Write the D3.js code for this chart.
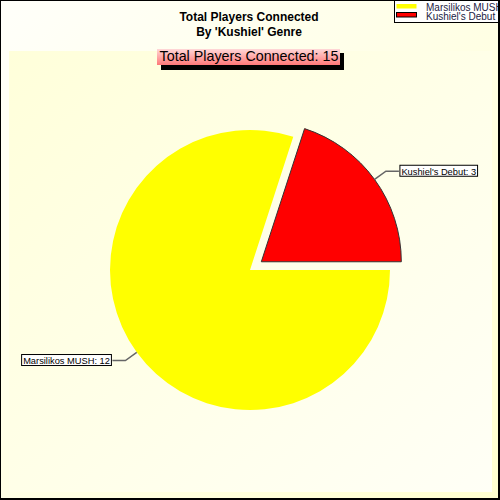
<!DOCTYPE html>
<html>
<head>
<meta charset="utf-8">
<script src="https://cdn.jsdelivr.net/npm/d3@7"></script>
<style>
  body { margin: 0; background: #fff; }
  svg { display: block; font-family: Arial, "Liberation Sans", sans-serif; }
</style>
</head>
<body>
<div id="chart"></div>
<script>
// chart data
const categories = ["Marsilikos MUSH", "Kushiel's Debut"];
const values = [12, 3];
const colors = ["#ffff00", "#ff0000"];
const exploded = [false, true];
const titleLines = ["Total Players Connected", "By 'Kushiel' Genre"];
const subtitle = "Total Players Connected: " + d3.sum(values);

const width = 500, height = 500;
const cx = 250, cy = 270, radius = 140, explode = 14;

const svg = d3.select('#chart').append('svg')
  .attr('width', width)
  .attr('height', height);

const defs = svg.append('defs');

// background gradients
const outerGrad = defs.append('linearGradient').attr('id', 'outerBg')
  .attr('x1', 0).attr('y1', 0).attr('x2', 1).attr('y2', 1);
outerGrad.append('stop').attr('offset', '0%').attr('stop-color', '#fffffa');
outerGrad.append('stop').attr('offset', '100%').attr('stop-color', '#ffffd0');

const innerGrad = defs.append('linearGradient').attr('id', 'innerBg')
  .attr('x1', 0).attr('y1', 0).attr('x2', 1).attr('y2', 1);
innerGrad.append('stop').attr('offset', '0%').attr('stop-color', '#ffffda');
innerGrad.append('stop').attr('offset', '100%').attr('stop-color', '#fffff6');

const pinkGrad = defs.append('linearGradient').attr('id', 'pink')
  .attr('x1', 0).attr('y1', 0).attr('x2', 0).attr('y2', 1);
pinkGrad.append('stop').attr('offset', '0%').attr('stop-color', '#ffd8d8');
pinkGrad.append('stop').attr('offset', '100%').attr('stop-color', '#ff7878');

const legendClip = defs.append('clipPath').attr('id', 'legendClip');
legendClip.append('rect').attr('x', 394).attr('y', 0).attr('width', 104).attr('height', 23);

// frame
svg.append('rect').attr('x', 0).attr('y', 0).attr('width', width).attr('height', height).attr('fill', '#000');
svg.append('rect').attr('x', 1).attr('y', 1).attr('width', width - 3).attr('height', height - 3).attr('fill', 'url(#outerBg)');
svg.append('rect').attr('x', 9).attr('y', 51).attr('width', 483).attr('height', 441).attr('fill', 'url(#innerBg)');

// titles
svg.selectAll('text.title').data(titleLines).enter()
  .append('text')
  .attr('class', 'title')
  .attr('x', 249)
  .attr('y', (d, i) => 21 + i * 15)
  .attr('text-anchor', 'middle')
  .attr('font-size', 12)
  .attr('font-weight', 'bold')
  .attr('fill', '#000')
  .text(d => d);

// subtitle box with shadow
svg.append('rect').attr('x', 161).attr('y', 53).attr('width', 183).attr('height', 17).attr('fill', '#000');
svg.append('rect').attr('x', 157).attr('y', 49).attr('width', 183).attr('height', 16).attr('fill', 'url(#pink)');
svg.append('text')
  .attr('x', 249).attr('y', 61)
  .attr('text-anchor', 'middle')
  .attr('font-size', 14.3)
  .attr('fill', '#000')
  .text(subtitle);

// pie
const data = categories.map((c, i) => ({ name: c, value: values[i], color: colors[i], explode: exploded[i] }));

const pie = d3.pie()
  .sort(null)
  .value(d => d.value)
  .startAngle(Math.PI / 2)
  .endAngle(Math.PI / 2 + 2 * Math.PI);

const arc = d3.arc().innerRadius(0).outerRadius(radius);
const arcs = pie(data);

const offset = d => {
  const a = (d.startAngle + d.endAngle) / 2;
  const r = d.data.explode ? explode : 0;
  return [Math.sin(a) * r, -Math.cos(a) * r];
};

const g = svg.append('g').attr('transform', `translate(${cx},${cy})`);

g.selectAll('path.slice').data(arcs).enter()
  .append('path')
  .attr('class', 'slice')
  .attr('transform', d => `translate(${offset(d)})`)
  .attr('d', arc)
  .attr('fill', d => d.data.color)
  .attr('stroke', d => d.data.explode ? '#333' : 'none')
  .attr('stroke-width', 1);

// labels with leader lines
arcs.forEach(d => {
  const a = (d.startAngle + d.endAngle) / 2;
  const [ox, oy] = offset(d);
  const px = ox + Math.sin(a) * radius, py = oy - Math.cos(a) * radius;
  const ex = ox + Math.sin(a) * (radius + 14), ey = oy - Math.cos(a) * (radius + 14);
  const right = Math.sin(a) > 0;
  const hx = ex + (right ? 13 : -13);
  const label = d.data.name + ': ' + d.data.value;

  g.append('polyline')
    .attr('points', [[px, py], [ex, ey], [hx, ey]].map(p => p.join(',')).join(' '))
    .attr('fill', 'none')
    .attr('stroke', '#666')
    .attr('stroke-width', 1.5);

  const t = g.append('text')
    .attr('font-size', 9.3)
    .attr('fill', '#000')
    .text(label);
  const w = t.node().getComputedTextLength();
  const bx = right ? hx + 1 : hx - w - 4;
  g.insert('rect', 'text:last-of-type')
    .attr('x', bx).attr('y', ey - 6)
    .attr('width', w + 3).attr('height', 11)
    .attr('fill', '#fff')
    .attr('stroke', '#000')
    .attr('stroke-width', 1);
  t.attr('x', bx + 1.5).attr('y', ey + 3.5);
});

// legend
const legend = svg.append('g');
legend.append('rect')
  .attr('x', 394.5).attr('y', 0.5).attr('width', 110).attr('height', 22)
  .attr('fill', '#fff').attr('stroke', '#000');

const items = legend.append('g').attr('clip-path', 'url(#legendClip)')
  .selectAll('g.item').data(data).enter()
  .append('g').attr('class', 'item')
  .attr('transform', (d, i) => `translate(0,${i * 8.5})`);

items.append('rect')
  .attr('x', 396.5)
  .attr('y', 4)
  .attr('width', 20)
  .attr('height', 4.5)
  .attr('fill', d => d.color)
  .attr('stroke', d => d.explode ? '#000' : 'none');

items.append('text')
  .attr('x', 426).attr('y', (d, i) => 10.5 + i)
  .attr('font-size', 10)
  .attr('fill', '#222244')
  .text(d => d.name);

svg.append('rect').attr('x', 498).attr('y', 0).attr('width', 2).attr('height', 500).attr('fill', '#000');
</script>
</body>
</html>
